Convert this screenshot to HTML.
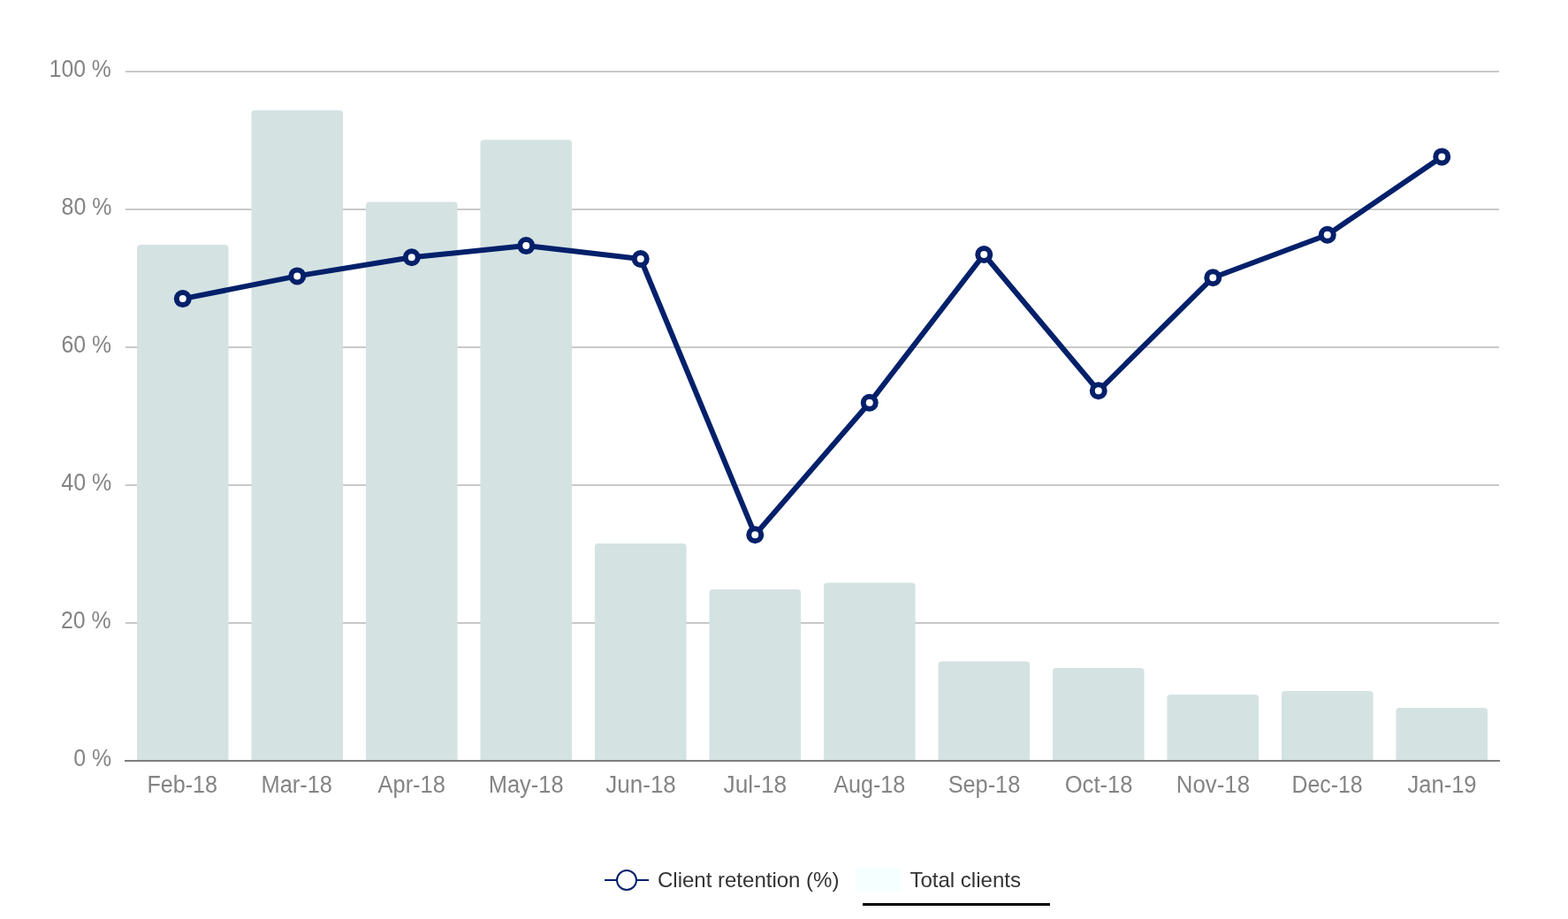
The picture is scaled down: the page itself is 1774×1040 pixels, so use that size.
<!DOCTYPE html>
<html lang="en">
<head>
<meta charset="utf-8">
<title>Client retention</title>
<style>
html,body{margin:0;padding:0;background:#fff;}
body{width:1774px;height:1040px;overflow:hidden;}
svg{display:block;}
text{font-family:"Liberation Sans",Arial,Helvetica,sans-serif;}
.ax{font-size:27px;fill:#848484;}
.lg{font-size:24px;fill:#333333;}
</style>
</head>
<body>
<svg width="1774" height="1040" viewBox="0 0 1774 1040">
<rect width="1774" height="1040" fill="#ffffff"/>
<g stroke="#c9c9c9" stroke-width="2">
<line x1="142" y1="81" x2="1696" y2="81"/>
<line x1="142" y1="237" x2="1696" y2="237"/>
<line x1="142" y1="393" x2="1696" y2="393"/>
<line x1="142" y1="549" x2="1696" y2="549"/>
<line x1="142" y1="705" x2="1696" y2="705"/>
</g>
<g fill="#d4e2e2">
<path d="M154.95 861 V281.00 Q154.95 277.00 158.95 277.00 H254.55 Q258.55 277.00 258.55 281.00 V861 Z"/>
<path d="M284.45 861 V128.80 Q284.45 124.80 288.45 124.80 H384.05 Q388.05 124.80 388.05 128.80 V861 Z"/>
<path d="M413.95 861 V232.50 Q413.95 228.50 417.95 228.50 H513.55 Q517.55 228.50 517.55 232.50 V861 Z"/>
<path d="M543.45 861 V162.20 Q543.45 158.20 547.45 158.20 H643.05 Q647.05 158.20 647.05 162.20 V861 Z"/>
<path d="M672.95 861 V619.10 Q672.95 615.10 676.95 615.10 H772.55 Q776.55 615.10 776.55 619.10 V861 Z"/>
<path d="M802.45 861 V671.00 Q802.45 667.00 806.45 667.00 H902.05 Q906.05 667.00 906.05 671.00 V861 Z"/>
<path d="M931.95 861 V663.50 Q931.95 659.50 935.95 659.50 H1031.55 Q1035.55 659.50 1035.55 663.50 V861 Z"/>
<path d="M1061.45 861 V752.60 Q1061.45 748.60 1065.45 748.60 H1161.05 Q1165.05 748.60 1165.05 752.60 V861 Z"/>
<path d="M1190.95 861 V760.10 Q1190.95 756.10 1194.95 756.10 H1290.55 Q1294.55 756.10 1294.55 760.10 V861 Z"/>
<path d="M1320.45 861 V790.10 Q1320.45 786.10 1324.45 786.10 H1420.05 Q1424.05 786.10 1424.05 790.10 V861 Z"/>
<path d="M1449.95 861 V786.00 Q1449.95 782.00 1453.95 782.00 H1549.55 Q1553.55 782.00 1553.55 786.00 V861 Z"/>
<path d="M1579.45 861 V804.90 Q1579.45 800.90 1583.45 800.90 H1679.05 Q1683.05 800.90 1683.05 804.90 V861 Z"/>
</g>
<line x1="141" y1="861" x2="1697" y2="861" stroke="#7e7e7e" stroke-width="2"/>
<g class="ax">
<text x="55.78" y="87.3" textLength="69.96" lengthAdjust="spacingAndGlyphs">100 %</text>
<text x="69.53" y="243.3" textLength="56.81" lengthAdjust="spacingAndGlyphs">80 %</text>
<text x="69.53" y="399.3" textLength="56.42" lengthAdjust="spacingAndGlyphs">60 %</text>
<text x="69.31" y="555.3" textLength="57.02" lengthAdjust="spacingAndGlyphs">40 %</text>
<text x="68.94" y="711.3" textLength="56.68" lengthAdjust="spacingAndGlyphs">20 %</text>
<text x="83.37" y="867.3" textLength="42.86" lengthAdjust="spacingAndGlyphs">0 %</text>
</g>
<g class="ax">
<text x="166.52" y="897" textLength="79.54" lengthAdjust="spacingAndGlyphs">Feb-18</text>
<text x="295.54" y="897" textLength="80.46" lengthAdjust="spacingAndGlyphs">Mar-18</text>
<text x="427.62" y="897" textLength="76.17" lengthAdjust="spacingAndGlyphs">Apr-18</text>
<text x="552.84" y="897" textLength="84.70" lengthAdjust="spacingAndGlyphs">May-18</text>
<text x="685.37" y="897" textLength="79.43" lengthAdjust="spacingAndGlyphs">Jun-18</text>
<text x="818.62" y="897" textLength="71.58" lengthAdjust="spacingAndGlyphs">Jul-18</text>
<text x="943.19" y="897" textLength="81.07" lengthAdjust="spacingAndGlyphs">Aug-18</text>
<text x="1072.65" y="897" textLength="81.66" lengthAdjust="spacingAndGlyphs">Sep-18</text>
<text x="1204.78" y="897" textLength="76.62" lengthAdjust="spacingAndGlyphs">Oct-18</text>
<text x="1330.85" y="897" textLength="83.15" lengthAdjust="spacingAndGlyphs">Nov-18</text>
<text x="1461.56" y="897" textLength="80.03" lengthAdjust="spacingAndGlyphs">Dec-18</text>
<text x="1592.55" y="897" textLength="77.96" lengthAdjust="spacingAndGlyphs">Jan-19</text>
</g>
<polyline points="206.75,338.10 336.25,312.40 465.75,291.20 595.25,278.10 724.75,293.00 854.25,605.20 983.75,455.80 1113.25,288.00 1242.75,442.30 1372.25,314.20 1501.75,265.80 1631.25,177.40" fill="none" stroke="#03206a" stroke-width="6" stroke-linejoin="round" stroke-linecap="round"/>
<g fill="#ffffff" stroke="#03206a" stroke-width="6">
<circle cx="206.75" cy="338.10" r="7"/>
<circle cx="336.25" cy="312.40" r="7"/>
<circle cx="465.75" cy="291.20" r="7"/>
<circle cx="595.25" cy="278.10" r="7"/>
<circle cx="724.75" cy="293.00" r="7"/>
<circle cx="854.25" cy="605.20" r="7"/>
<circle cx="983.75" cy="455.80" r="7"/>
<circle cx="1113.25" cy="288.00" r="7"/>
<circle cx="1242.75" cy="442.30" r="7"/>
<circle cx="1372.25" cy="314.20" r="7"/>
<circle cx="1501.75" cy="265.80" r="7"/>
<circle cx="1631.25" cy="177.40" r="7"/>
</g>
<line x1="684" y1="996" x2="734" y2="996" stroke="#03206a" stroke-width="2"/>
<circle cx="709" cy="996" r="11" fill="#ffffff" stroke="#03206a" stroke-width="2"/>
<text class="lg" x="744" y="1004">Client retention (%)</text>
<rect x="968" y="982" width="51" height="27" rx="3" fill="#f5ffff"/>
<text class="lg" x="1029.5" y="1004">Total clients</text>
<rect x="976" y="1022" width="212" height="3" fill="#000000"/>
</svg>
</body>
</html>
